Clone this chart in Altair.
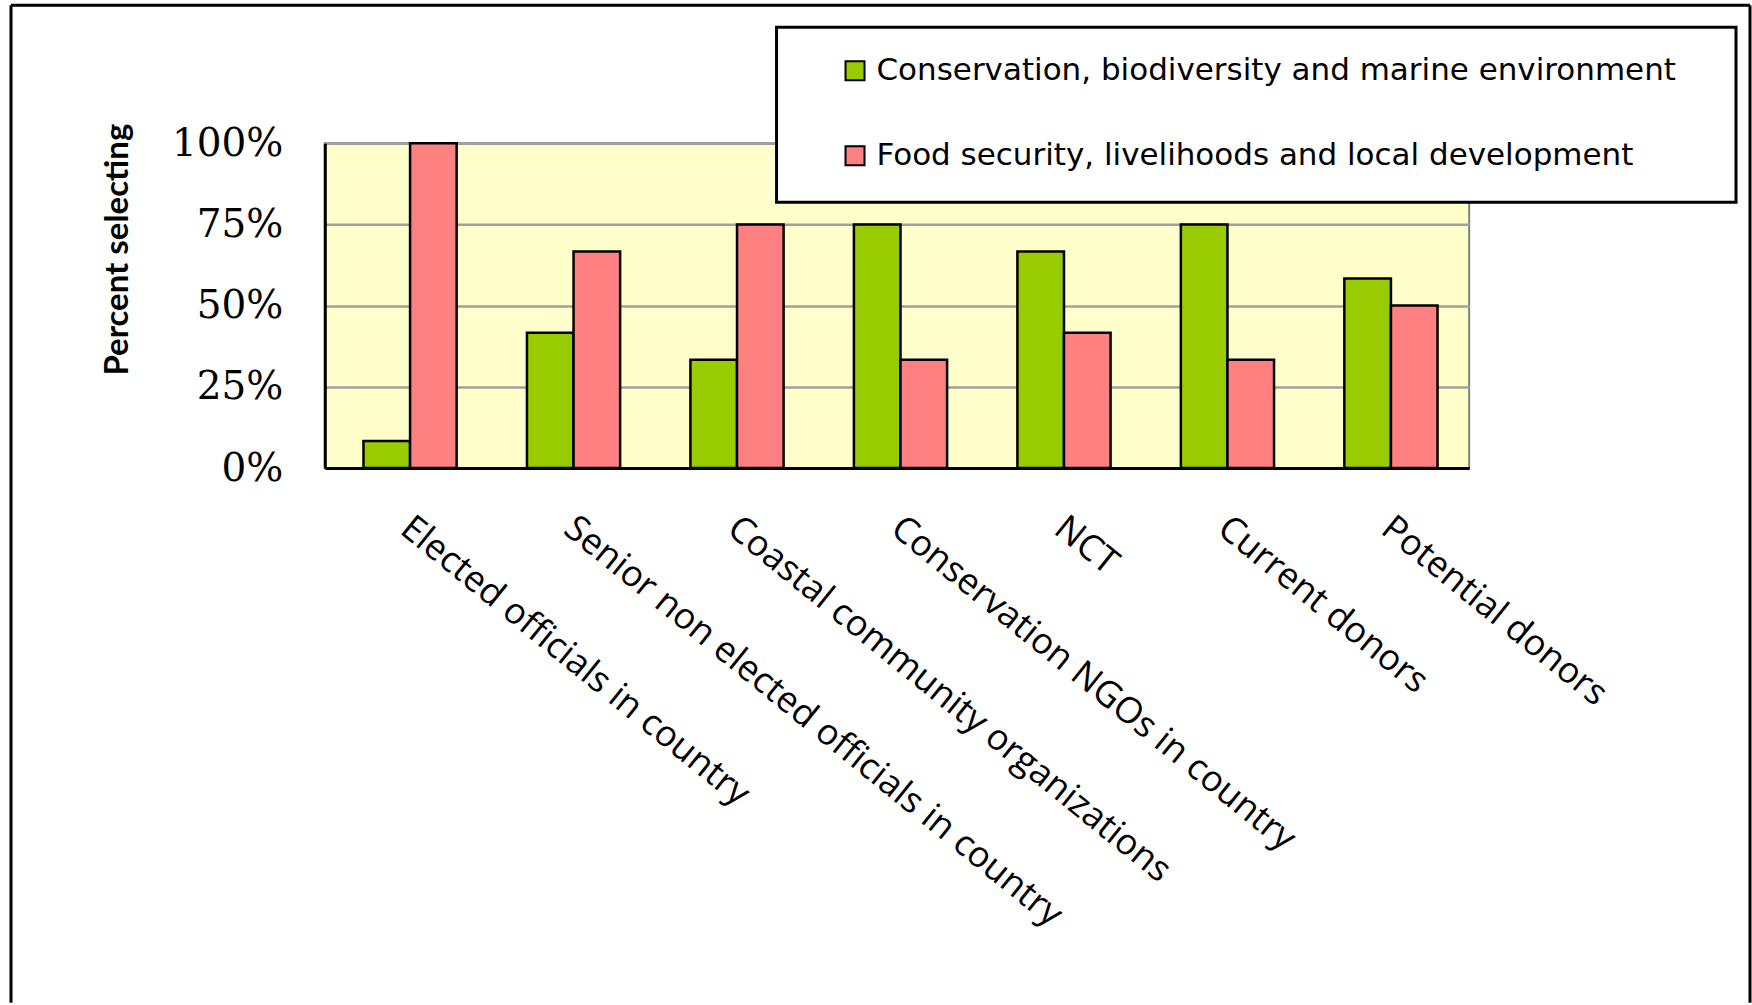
import altair as alt
import pandas as pd

categories = [
    "Elected officials in country",
    "Senior non elected officials in country",
    "Coastal community organizations",
    "Conservation NGOs in country",
    "NCT",
    "Current donors",
    "Potential donors",
]
series = [
    "Conservation, biodiversity and marine environment",
    "Food security, livelihoods and local development",
]
conservation = [0.0833, 0.4167, 0.3333, 0.75, 0.6667, 0.75, 0.5833]
food = [1.0, 0.6667, 0.75, 0.3333, 0.4167, 0.3333, 0.50]
colors = ["#99CC00", "#FF8080"]
y_ticks = [0, 0.25, 0.5, 0.75, 1.0]

rows = []
for c, v1, v2 in zip(categories, conservation, food):
    rows.append({"category": c, "series": series[0], "value": v1})
    rows.append({"category": c, "series": series[1], "value": v2})
df = pd.DataFrame(rows)

W, H = 1145, 325

bars = alt.Chart(df).mark_bar(stroke="black", strokeWidth=2.5).encode(
    x=alt.X(
        "category:N",
        sort=categories,
        scale=alt.Scale(paddingInner=0.43, paddingOuter=0.215, align=0.55),
        axis=alt.Axis(
            title=None,
            labelAngle=39,
            labelAlign="left",
            labelBaseline="top",
            labelPadding=42,
            labelOffset=6,
            labelFont="Open Sans",
            labelFontSize=36,
            labelColor="black",
            labelLimit=1000,
            labelOverlap=False,
            labelFlush=False,
            ticks=False,
            domainColor="black",
            domainWidth=3,
            grid=False,
        ),
    ),
    xOffset=alt.XOffset("series:N", sort=series, scale=alt.Scale(paddingInner=0, paddingOuter=0)),
    y=alt.Y(
        "value:Q",
        scale=alt.Scale(domain=[0, 1], nice=False),
        axis=alt.Axis(
            title="Percent selecting",
            values=y_ticks,
            format=".0%",
            labelFont="DejaVu Serif",
            labelFontSize=39,
            labelColor="black",
            labelPadding=42,
            ticks=False,
            domainColor="black",
            domainWidth=3,
            grid=True,
            gridColor="#A0A0A0",
            gridWidth=2.5,
            titleFont="Lato",
            titleFontWeight="bold",
            titleFontSize=33,
            titleColor="black",
            titleAngle=-90,
            titleAlign="center",
            titleBaseline="alphabetic",
            titleX=-197,
            titleY=106,
        ),
    ),
    color=alt.Color(
        "series:N",
        sort=series,
        scale=alt.Scale(domain=series, range=colors),
        legend=alt.Legend(
            title=None,
            orient="none",
            legendX=482,
            legendY=-88,
            direction="vertical",
            padding=0,
            rowPadding=53,
            symbolType="square",
            symbolSize=361,
            symbolStrokeColor="black",
            symbolStrokeWidth=2,
            symbolOffset=33,
            labelFont="DejaVu Sans",
            labelFontSize=31,
            labelColor="black",
            labelLimit=1000,
            labelOffset=6,
        ),
    ),
)

frame = alt.Data(values=[{"k": 1}])
legend_box = alt.Chart(frame).mark_rect(fill="white", stroke="black", strokeWidth=3).encode(
    x=alt.value(452), x2=alt.value(1412), y=alt.value(-116), y2=alt.value(59)
)
top_line = alt.Chart(frame).mark_rule(color="black", strokeWidth=3).encode(
    x=alt.value(-314), x2=alt.value(1426), y=alt.value(-138)
)
left_line = alt.Chart(frame).mark_rule(color="black", strokeWidth=3).encode(
    x=alt.value(-314), y=alt.value(-138), y2=alt.value(860)
)
right_line = alt.Chart(frame).mark_rule(color="black", strokeWidth=3).encode(
    x=alt.value(1426), y=alt.value(-138), y2=alt.value(860)
)

chart = alt.layer(bars, legend_box, top_line, left_line, right_line).properties(
    width=W,
    height=H,
    padding={"left": 9, "top": 3, "right": 0, "bottom": 0},
    background="white",
).configure_view(
    fill="#FFFFCC", stroke="#808080", strokeWidth=2
)

chart.save("out.html", embed_options={"renderer": "svg", "actions": False})
